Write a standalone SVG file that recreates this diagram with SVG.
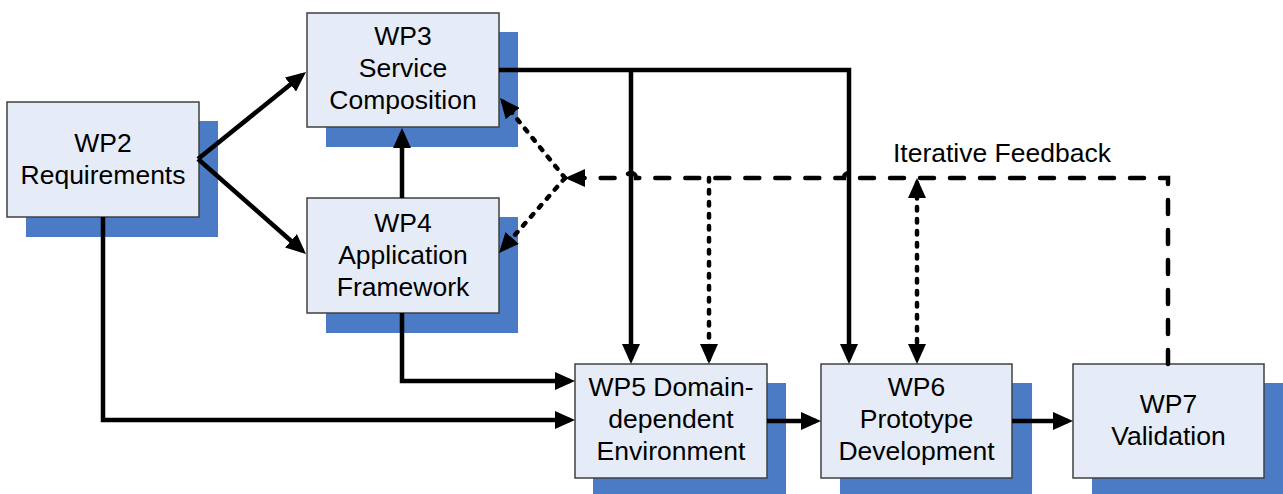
<svg xmlns="http://www.w3.org/2000/svg" width="1283" height="494" viewBox="0 0 1283 494">
<style>
.shadow{fill:#4A7BC4;}
.box{fill:#E6ECF7;stroke:#404040;stroke-width:1.5;}
.lbl{font-family:"Liberation Sans",Arial,sans-serif;font-size:26.5px;fill:#000;text-anchor:middle;}
.solid{fill:none;stroke:#000;stroke-width:4.5;}
.dash{fill:none;stroke:#000;stroke-width:4.5;stroke-dasharray:14 16;stroke-linecap:round;}
.dot{fill:none;stroke:#000;stroke-width:4.5;stroke-dasharray:3.5 8.5;stroke-linecap:round;}
</style>
<defs>
<marker id="arr" viewBox="0 0 20 18" refX="15" refY="9" markerWidth="20" markerHeight="18" markerUnits="userSpaceOnUse" orient="auto-start-reverse">
<path d="M0,0 L20,9 L0,18 z" fill="#000"/>
</marker>
</defs>
<rect width="1283" height="494" fill="#fff"/>
<g id="wp2">
<rect class="shadow" x="26" y="121" width="192" height="116"/>
<rect class="box" x="7" y="102" width="192" height="115"/>
<text class="lbl" x="103" y="152">WP2</text>
<text class="lbl" x="103" y="184">Requirements</text>
</g>
<g id="wp3">
<rect class="shadow" x="326" y="32" width="192" height="115"/>
<rect class="box" x="307" y="13" width="192" height="114"/>
<text class="lbl" x="403" y="45">WP3</text>
<text class="lbl" x="403" y="77">Service</text>
<text class="lbl" x="403" y="109">Composition</text>
</g>
<g id="wp4">
<rect class="shadow" x="326" y="217" width="192" height="116"/>
<rect class="box" x="307" y="198" width="192" height="115"/>
<text class="lbl" x="403" y="232">WP4</text>
<text class="lbl" x="403" y="264">Application</text>
<text class="lbl" x="403" y="296">Framework</text>
</g>
<g id="wp5">
<rect class="shadow" x="593" y="383" width="193" height="111"/>
<rect class="box" x="575" y="364" width="192" height="114"/>
<text class="lbl" x="671" y="396">WP5 Domain-</text>
<text class="lbl" x="671" y="428">dependent</text>
<text class="lbl" x="671" y="460">Environment</text>
</g>
<g id="wp6">
<rect class="shadow" x="840" y="383" width="192" height="111"/>
<rect class="box" x="821" y="364" width="191" height="114"/>
<text class="lbl" x="916.5" y="396">WP6</text>
<text class="lbl" x="916.5" y="428">Prototype</text>
<text class="lbl" x="916.5" y="460">Development</text>
</g>
<g id="wp7">
<rect class="shadow" x="1092" y="383" width="191" height="111"/>
<rect class="box" x="1073" y="364" width="191" height="114"/>
<text class="lbl" x="1168.5" y="413">WP7</text>
<text class="lbl" x="1168.5" y="445">Validation</text>
</g>
<g id="connectors">
<path class="solid" d="M198,159 L302.1,75.1" marker-end="url(#arr)"/>
<path class="solid" d="M198,159 L302.2,250.7" marker-end="url(#arr)"/>
<path class="solid" d="M402,198 L402,133" marker-end="url(#arr)"/>
<path class="solid" d="M402,313 L402,381 L570,381" marker-end="url(#arr)"/>
<path class="solid" d="M103,217 L103,420 L570,420" marker-end="url(#arr)"/>
<path class="solid" d="M499,70 L849,70 L849,359" marker-end="url(#arr)"/>
<path class="solid" d="M631,70 L631,359" marker-end="url(#arr)"/>
<path class="solid" d="M767,421 L816,421" marker-end="url(#arr)"/>
<path class="solid" d="M1012,421 L1068,421" marker-end="url(#arr)"/>
<path class="dash" d="M1168,364 L1168,178 L854,178 A5,5 0 0 0 844,178 L636,178 A5,5 0 0 0 626,178 L570,178" marker-end="url(#arr)"/>
<path class="dot" d="M565,178 L503.2,101.9" marker-end="url(#arr)"/>
<path class="dot" d="M565,178 L502.3,249.2" marker-end="url(#arr)"/>
<path class="dot" d="M709,178 L709,359" marker-end="url(#arr)"/>
<path class="dot" d="M917,183 L917,359" marker-start="url(#arr)" marker-end="url(#arr)"/>
<text class="lbl" x="1002" y="162">Iterative Feedback</text>
</g>
</svg>
